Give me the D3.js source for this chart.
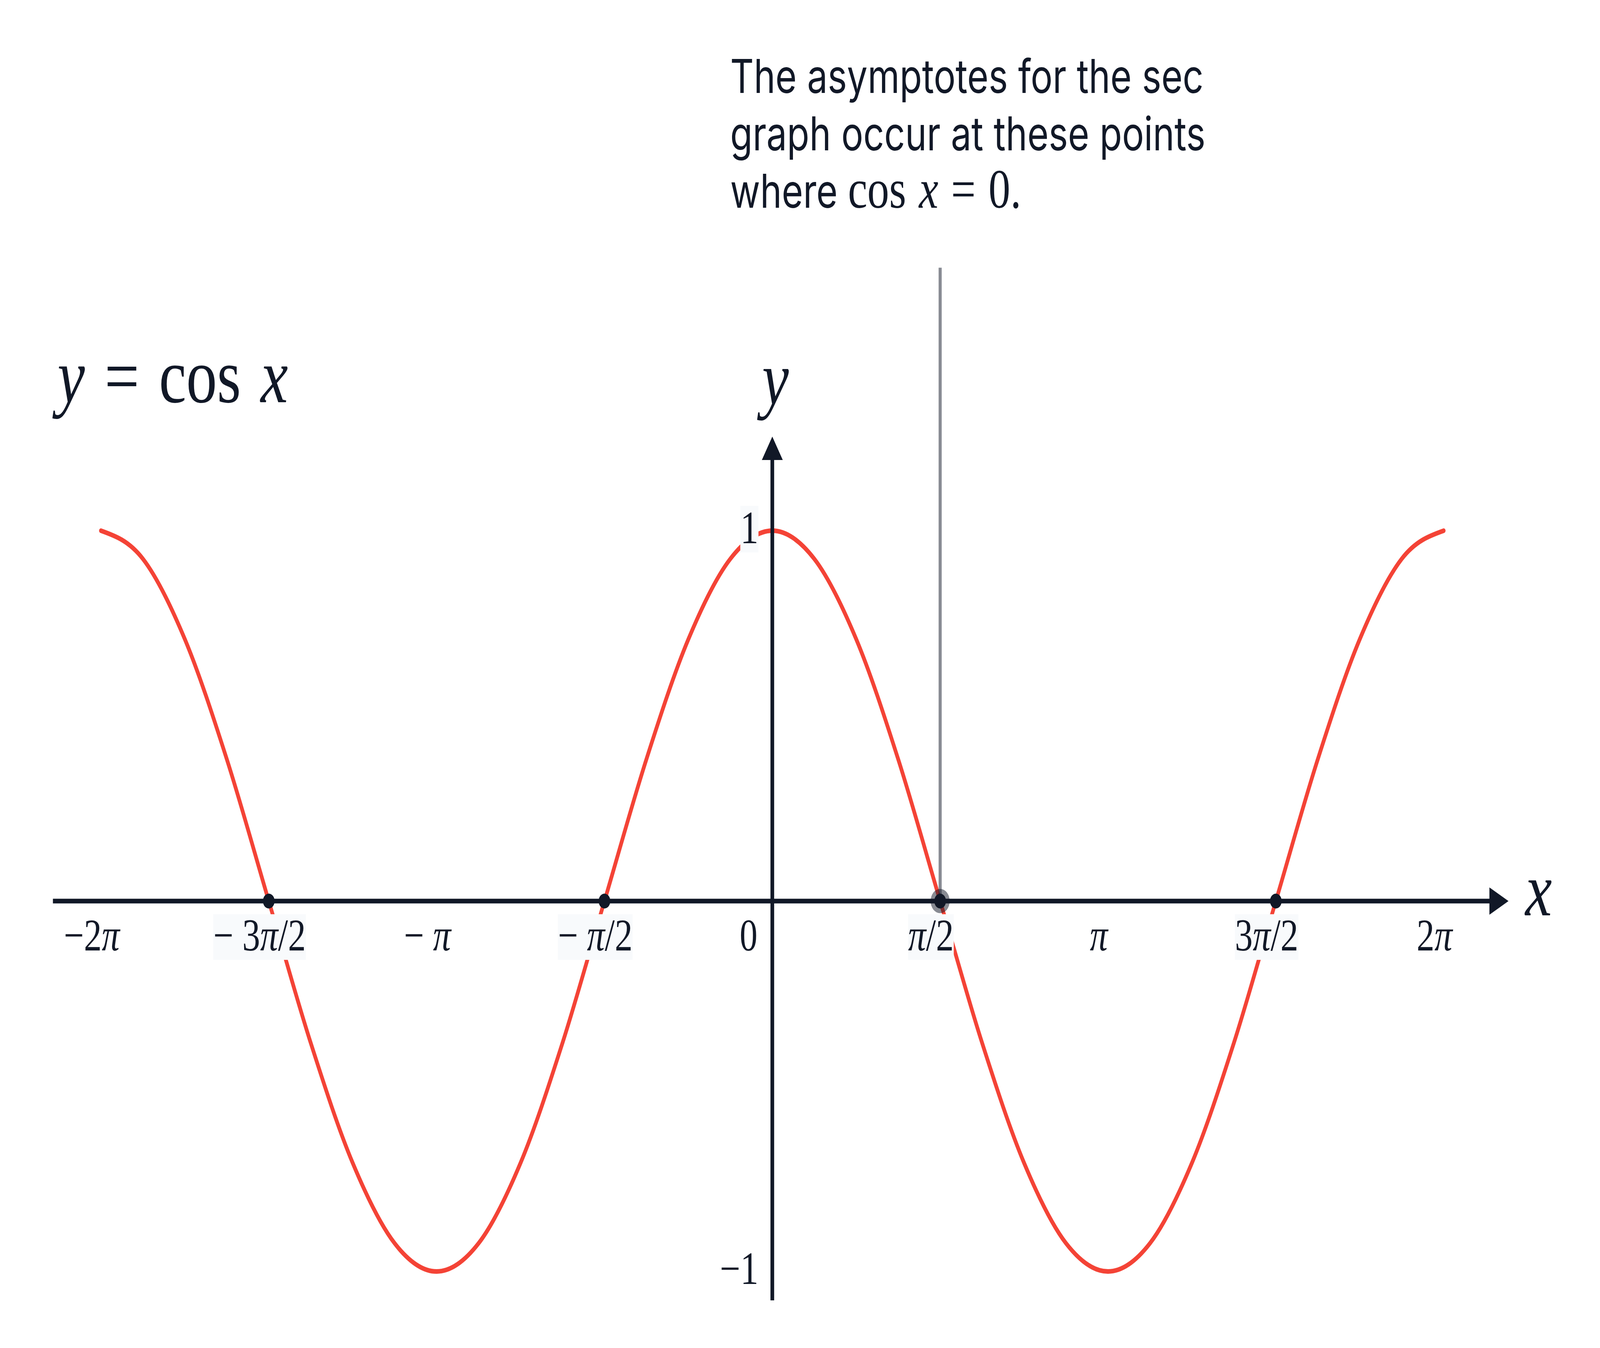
<!DOCTYPE html>
<html>
<head>
<meta charset="utf-8">
<script src="https://cdn.jsdelivr.net/npm/d3@7"></script>
<style>
  html, body { margin: 0; padding: 0; background: #ffffff; overflow: hidden; }
  svg { display: block; width: 100vw; height: 100vh; }
  text { white-space: pre; }
</style>
</head>
<body>
<div id="chart"></div>
<script>
// x values are in units of pi
var xTicks = [-2, -1.5, -1, -0.5, 0, 0.5, 1, 1.5, 2];
var xTickLabels = ["−2π", "− 3π/2", "− π", "− π/2", "0", "π/2", "π", "3π/2", "2π"];
var yTicks = [1, -1];
var yTickLabels = ["1", "−1"];

// cos x read at every pi/8
var curveEighths = [-16, -15, -14, -13, -12, -11, -10, -9, -8, -7, -6, -5, -4, -3, -2, -1, 0,
                    1, 2, 3, 4, 5, 6, 7, 8, 9, 10, 11, 12, 13, 14, 15, 16];
var curveY = [1, 0.924, 0.707, 0.383, 0, -0.383, -0.707, -0.924, -1, -0.924, -0.707, -0.383, 0,
              0.383, 0.707, 0.924, 1, 0.924, 0.707, 0.383, 0, -0.383, -0.707, -0.924, -1,
              -0.924, -0.707, -0.383, 0, 0.383, 0.707, 0.924, 1];

var zeroX = [-1.5, -0.5, 0.5, 1.5];
var asymptoteX = [0.5];
var asymptoteTop = 1.71;
var axisExtentX = [-2.143, 2.193];
var axisExtentY = [-1.078, 1.254];

var noteLines = ["The asymptotes for the sec", "graph occur at these points", "where "];
var noteMath = "cos x = 0.";

var w = 5200;
var h = 3452;
var ink = "#111827";
var red = "#f44336";
var mathFont = "'Liberation Serif', 'DejaVu Serif', serif";

var xScale = d3.scaleLinear().domain([-2, 2]).range([328, 4692]);
var yScale = d3.scaleLinear().domain([-1, 1]).range([3256, 1359]);

// drawn in a 5200 x 3452 frame and fitted to the window
var svg = d3.select("#chart")
            .append("svg")
            .attr("viewBox", "0 0 " + w + " " + h)
            .attr("preserveAspectRatio", "none");

// writes a math string, italic for variables and pi
function mathText(sel, str, gap) {
    str.split("").forEach(function(ch){
        var t = sel.append("tspan")
           .attr("font-style", /[πxy]/.test(ch) ? "italic" : "normal")
           .text(ch);
        if (gap && ch === " ") t.attr("dx", gap);
    });
}

// the curve
var points = curveEighths.map(function(k, i){ return [k / 8, curveY[i]]; });
var line = d3.line()
             .x(function(d){ return xScale(d[0]); })
             .y(function(d){ return yScale(d[1]); })
             .curve(d3.curveMonotoneX);

var curvePath = svg.append("path")
    .datum(points)
    .attr("d", line)
    .attr("fill", "none")
    .attr("stroke", red)
    .attr("stroke-width", 12)
    .attr("stroke-linecap", "round");

// axes with arrows
var x0 = xScale(0), y0 = yScale(0);
var xTip = xScale(axisExtentX[1]), yTip = yScale(axisExtentY[1]);

svg.append("line")
    .attr("x1", xScale(axisExtentX[0])).attr("x2", xTip - 50)
    .attr("y1", y0).attr("y2", y0)
    .attr("stroke", ink).attr("stroke-width", 12);
svg.append("path")
    .attr("d", "M" + xTip + "," + y0 + "L" + (xTip - 62) + "," + (y0 - 35) + "L" + (xTip - 62) + "," + (y0 + 35) + "Z")
    .attr("fill", ink);

svg.append("line")
    .attr("x1", x0).attr("x2", x0)
    .attr("y1", yScale(axisExtentY[0])).attr("y2", yTip + 50)
    .attr("stroke", ink).attr("stroke-width", 12);
svg.append("path")
    .attr("d", "M" + x0 + "," + yTip + "L" + (x0 - 34) + "," + (yTip + 60) + "L" + (x0 + 34) + "," + (yTip + 60) + "Z")
    .attr("fill", ink);

// asymptote marker
svg.selectAll(".asym")
    .data(asymptoteX)
    .enter()
    .append("line")
    .attr("x1", function(d){ return xScale(d); })
    .attr("x2", function(d){ return xScale(d); })
    .attr("y1", yScale(asymptoteTop))
    .attr("y2", y0)
    .attr("stroke", ink)
    .attr("stroke-opacity", 0.5)
    .attr("stroke-width", 10);

svg.selectAll(".ring")
    .data(asymptoteX)
    .enter()
    .append("circle")
    .attr("cx", function(d){ return xScale(d); })
    .attr("cy", y0)
    .attr("r", 31)
    .attr("fill", ink)
    .attr("fill-opacity", 0.5);

svg.selectAll(".zero")
    .data(zeroX)
    .enter()
    .append("circle")
    .attr("cx", function(d){ return xScale(d); })
    .attr("cy", y0)
    .attr("r", 19)
    .attr("fill", ink);

// sample the drawn curve, used to decide which labels need a backdrop
var curveLen = curvePath.node().getTotalLength();
var samples = d3.range(0, curveLen, 8).map(function(l){ return curvePath.node().getPointAtLength(l); });

var labelLayer = svg.append("g");

function backdrop(textSel) {
    var b = textSel.node().getBBox();
    var hit = samples.some(function(p){
        return p.x > b.x - 6 && p.x < b.x + b.width + 6 && p.y > b.y && p.y < b.y + b.height;
    });
    if (hit) {
        labelLayer.insert("rect", function(){ return textSel.node(); })
           .attr("x", b.x).attr("y", b.y + 10)
           .attr("width", b.width).attr("height", b.height - 12)
           .attr("fill", "#f8fafc");
    }
}

xTicks.forEach(function(t, i){
    var txt = labelLayer.append("text")
        .attr("font-family", mathFont)
        .attr("font-size", 116)
        .attr("fill", ink)
        .attr("y", y0 + 127);
    if (t === 0) {
        txt.attr("x", x0 - 48).attr("text-anchor", "end");
    } else {
        txt.attr("x", xScale(t) - 30).attr("text-anchor", "middle");
    }
    mathText(txt, xTickLabels[i]);
    backdrop(txt);
});

yTicks.forEach(function(t, i){
    var txt = labelLayer.append("text")
        .attr("font-family", mathFont)
        .attr("font-size", 118)
        .attr("fill", ink)
        .attr("x", x0 - 45)
        .attr("y", yScale(t) + 32)
        .attr("text-anchor", "end");
    mathText(txt, yTickLabels[i]);
    backdrop(txt);
});

// axis names
var xName = svg.append("text")
    .attr("font-family", mathFont).attr("font-size", 195).attr("fill", ink)
    .attr("x", xTip + 98).attr("y", y0 + 37).attr("text-anchor", "middle");
mathText(xName, "x");

var yName = svg.append("text")
    .attr("font-family", mathFont).attr("font-size", 195).attr("fill", ink)
    .attr("x", x0 + 10).attr("y", yTip - 83).attr("text-anchor", "middle");
mathText(yName, "y");

// function name
var title = svg.append("text")
    .attr("font-family", mathFont).attr("font-size", 200).attr("fill", ink)
    .attr("x", 187).attr("y", 1030);
mathText(title, "y = cos x", 14);

// note about the asymptotes
var note = svg.append("g").attr("transform", "translate(2373,238)");
noteLines.forEach(function(s, i){
    var t = note.append("text")
        .attr("font-family", "Inter, 'Noto Sans', sans-serif")
        .attr("font-size", 119)
        .attr("fill", ink)
        .attr("y", i * 147)
        .text(s);
    if (i === noteLines.length - 1) {
        var m = t.append("tspan")
            .attr("font-family", mathFont)
            .attr("font-size", 142);
        mathText(m, noteMath, 6);
    }
});
</script>
</body>
</html>
